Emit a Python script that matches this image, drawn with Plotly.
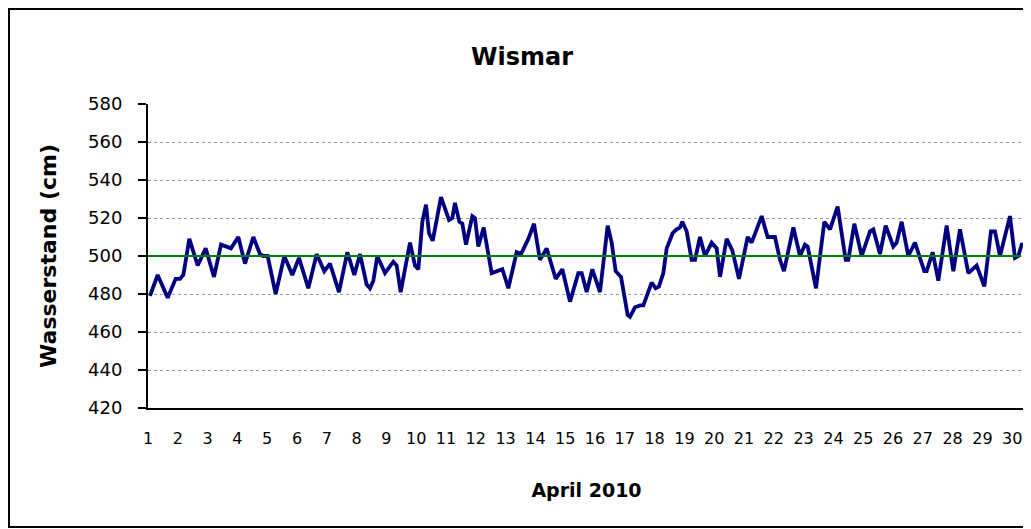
import plotly.graph_objects as go

# Time position (day of April 2010, fractional) and water level (cm)
days = [1.067, 1.324, 1.660, 1.928, 2.074, 2.186, 2.387, 2.667, 2.935, 3.215,
        3.450, 3.785, 4.031, 4.255, 4.535, 4.758, 4.870, 5.016, 5.284, 5.575,
        5.843, 6.067, 6.380, 6.660, 6.917, 7.107, 7.409, 7.689, 7.924, 8.114,
        8.338, 8.450, 8.562, 8.696, 8.953, 9.233, 9.345, 9.479, 9.792, 9.960,
        10.072, 10.206, 10.329, 10.430, 10.553, 10.832, 11.101, 11.212, 11.302, 11.448,
        11.548, 11.671, 11.884, 11.973, 12.085, 12.264, 12.532, 12.756, 12.890, 13.092,
        13.371, 13.517, 13.763, 13.953, 14.154, 14.378, 14.468, 14.680, 14.904, 15.161,
        15.441, 15.553, 15.721, 15.911, 16.168, 16.425, 16.560, 16.694, 16.873, 17.096,
        17.174, 17.342, 17.510, 17.622, 17.902, 18.036, 18.148, 18.293, 18.405, 18.606,
        18.740, 18.852, 18.931, 19.076, 19.244, 19.356, 19.523, 19.691, 19.915, 20.083,
        20.195, 20.418, 20.608, 20.832, 21.123, 21.257, 21.593, 21.794, 22.040, 22.208,
        22.342, 22.656, 22.879, 23.047, 23.137, 23.416, 23.696, 23.886, 24.143, 24.412,
        24.501, 24.702, 24.949, 25.083, 25.228, 25.340, 25.564, 25.754, 26.011, 26.123,
        26.291, 26.514, 26.738, 27.051, 27.130, 27.331, 27.521, 27.801, 28.025, 28.248,
        28.528, 28.808, 29.065, 29.289, 29.423, 29.591, 29.926, 30.094, 30.206, 30.318,
        30.430]
levels = [479, 490, 478, 488, 488, 490, 509, 495, 504, 489,
          506, 504, 510, 496, 510, 501, 500, 500, 480, 500,
          490, 499, 483, 501, 492, 496, 481, 502, 490, 501,
          485, 483, 487, 500, 491, 497, 495, 481, 507, 495,
          493, 518, 527, 512, 508, 531, 519, 520, 528, 518,
          517, 506, 521, 520, 505, 515, 491, 492, 493, 483,
          502, 501, 509, 517, 498, 504, 499, 488, 493, 476,
          491, 491, 481, 493, 481, 516, 507, 492, 489, 469,
          468, 473, 474, 474, 486, 483, 484, 491, 504, 512,
          514, 515, 518, 513, 498, 498, 510, 500, 507, 504,
          489, 509, 503, 488, 510, 507, 521, 510, 510, 498,
          492, 515, 500, 506, 505, 483, 518, 514, 526, 498,
          498, 517, 500, 506, 513, 514, 501, 516, 505, 507,
          518, 500, 507, 492, 492, 502, 487, 516, 492, 514,
          491, 495, 484, 513, 513, 500, 521, 499, 500, 506,
          506]

mw_days = [1, 30.3]
mw_level = [500, 500]

tick_days = list(range(1, 31))
tick_labels = [str(d) for d in tick_days]
y_ticks = list(range(420, 581, 20))

FONT = "DejaVu Sans"

# page body has an 8px margin -> figure is drawn 8px smaller and offset
W, H = 1023, 521
L, R, T, B = 140, 6, 96, 121
PW, PH = W - L - R, H - T - B

fig = go.Figure()
fig.add_trace(go.Scatter(x=days, y=levels, mode="lines",
                         line=dict(color="#000080", width=3.8),
                         showlegend=False, hoverinfo="x+y"))
fig.add_trace(go.Scatter(x=mw_days, y=mw_level, mode="lines",
                         line=dict(color="#008000", width=2),
                         showlegend=False, hoverinfo="y"))

fig.update_layout(
    width=W, height=H,
    margin=dict(l=L, r=R, t=T, b=B),
    paper_bgcolor="white", plot_bgcolor="white",
    title=dict(text="<b>Wismar</b>", x=(522 - 8) / W, xref="container", xanchor="center",
               y=1 - (57 - 8) / H, yref="container", yanchor="middle",
               font=dict(family=FONT, size=24, color="black")),
    xaxis=dict(range=[1, 30.43], tickvals=tick_days, ticktext=tick_labels,
               showgrid=False, zeroline=False, showline=True, linecolor="black",
               linewidth=2, ticks="", ticklabelstandoff=15,
               tickfont=dict(family=FONT, size=16, color="black"),
               title=dict(text="<b>April 2010</b>", standoff=36,
                          font=dict(family=FONT, size=19, color="black"))),
    yaxis=dict(range=[420, 580], tickvals=y_ticks,
               showgrid=True, gridcolor="#9a9a9a", griddash="dot", gridwidth=1,
               zeroline=False, showline=True, linecolor="black", linewidth=2,
               ticks="outside", ticklen=8, tickcolor="black", tickwidth=2,
               ticklabelstandoff=12,
               tickfont=dict(family=FONT, size=18, color="black"),
               title=dict(text="<b>Wasserstand (cm)</b>", standoff=25,
                          font=dict(family=FONT, size=22, color="black"))),
    shapes=[
        dict(type="rect", xref="paper", yref="paper",
             x0=(1 - L) / PW, x1=(1021 - L) / PW,
             y0=(H - B - 519) / PH, y1=(H - B - 1) / PH,
             line=dict(color="black", width=2), fillcolor="rgba(0,0,0,0)",
             layer="below"),
        dict(type="line", xref="paper", yref="paper", x0=1, x1=1, y0=0, y1=1,
             line=dict(color="#808080", width=2)),
    ],
)

fig.write_html("out.html")
